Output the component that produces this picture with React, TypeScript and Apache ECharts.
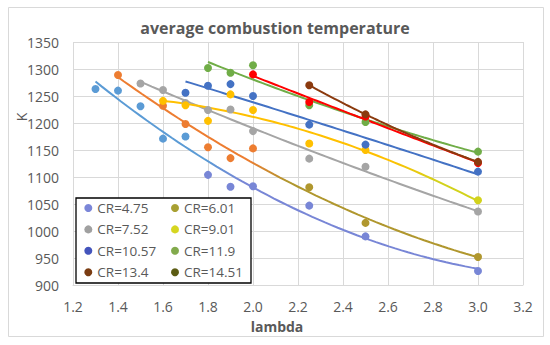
import React, { useEffect, useRef } from "react";
import * as echarts from "echarts";

const seriesNames = ["CR=4.75", "CR=6.01", "CR=7.52", "CR=9.01", "CR=10.57", "CR=11.9", "CR=13.4", "CR=14.51"];

const x475 = [1.3, 1.4, 1.5, 1.6, 1.7, 1.8, 1.9, 2.0, 2.25, 2.5, 3.0];
const y475 = [1263, 1260, 1231, 1171, 1175, 1104, 1082, 1083, 1047, 990, 926];
const x601 = [1.4, 1.6, 1.7, 1.8, 1.9, 2.0, 2.25, 2.5, 3.0];
const y601 = [1289, 1232, 1198, 1155, 1135, 1153, 1081, 1015, 952];
const x752 = [1.5, 1.6, 1.7, 1.8, 1.9, 2.0, 2.25, 2.5, 3.0];
const y752 = [1273, 1261, 1237, 1224, 1225, 1185, 1134, 1119, 1036];
const x901 = [1.6, 1.7, 1.8, 1.9, 2.0, 2.25, 2.5, 3.0];
const y901 = [1241, 1233, 1204, 1253, 1224, 1162, 1150, 1057];
const x1057 = [1.7, 1.8, 1.9, 2.0, 2.25, 2.5, 3.0];
const y1057 = [1256, 1269, 1272, 1250, 1197, 1160, 1110];
const x119 = [1.8, 1.9, 2.0, 2.25, 2.5, 3.0];
const y119 = [1302, 1293, 1307, 1233, 1202, 1147];
const x134 = [2.0, 2.25, 2.5, 3.0];
const y134 = [1290, 1239, 1212, 1126];
const x1451 = [2.25, 2.5, 3.0];
const y1451 = [1270, 1216, 1128];

const xTicks = [1.2, 3.2, 0.2];
const yTicks = [900, 1350, 50];

const allX = [x475, x601, x752, x901, x1057, x119, x134, x1451];
const allY = [y475, y601, y752, y901, y1057, y119, y134, y1451];

const COLORS = ["#5B9BD5", "#ED7D31", "#A5A5A5", "#FFC000", "#4472C4", "#70AD47", "#FF0000", "#8B3A0E"];
const LOW_COLORS = ["#7886D6", "#B0972E", "#A5A5A5", "#D2D21C", "#4472C4", "#70AD47", "#FF0000", "#8B3A0E"];
const LEGEND_COLORS = ["#7B86D8", "#A8A032", "#A0A0A0", "#D6D620", "#4454BC", "#82AA4C", "#7A3C12", "#5C5C14"];

// Least-squares polynomial (order 2) trendline, as in the original spreadsheet chart
function fitQuad(xs: number[], ys: number[]) {
  const n = xs.length;
  const m = xs.reduce((a, b) => a + b, 0) / n;
  const S = [0, 0, 0, 0, 0];
  const T = [0, 0, 0];
  xs.forEach((x, i) => {
    const u = x - m;
    let p = 1;
    for (let k = 0; k < 5; k++) {
      S[k] += p;
      if (k < 3) T[k] += p * ys[i];
      p *= u;
    }
  });
  const A = [
    [S[0], S[1], S[2], T[0]],
    [S[1], S[2], S[3], T[1]],
    [S[2], S[3], S[4], T[2]],
  ];
  for (let c = 0; c < 3; c++) {
    let piv = c;
    for (let r = c + 1; r < 3; r++) if (Math.abs(A[r][c]) > Math.abs(A[piv][c])) piv = r;
    [A[c], A[piv]] = [A[piv], A[c]];
    for (let r = 0; r < 3; r++) {
      if (r === c) continue;
      const f = A[r][c] / A[c][c];
      for (let k = c; k < 4; k++) A[r][k] -= f * A[c][k];
    }
  }
  const c0 = A[0][3] / A[0][0];
  const c1 = A[1][3] / A[1][1];
  const c2 = A[2][3] / A[2][2];
  return (x: number) => {
    const u = x - m;
    return c0 + c1 * u + c2 * u * u;
  };
}

const FONT = "'Open Sans', 'Liberation Sans', sans-serif";
const TXT = "#595959";

export default function App() {
  const ref = useRef<HTMLDivElement>(null);
  useEffect(() => {
    if (!ref.current) return;
    const chart = echarts.init(ref.current, null, { renderer: "svg" });

    const lineSeries: any[] = [];
    const scatterSeries: any[] = [];
    seriesNames.forEach((name, i) => {
      const xs = allX[i];
      const ys = allY[i];
      const f = fitQuad(xs, ys);
      const lo = Math.min(...xs);
      const hi = Math.max(...xs);
      const steps = 60;
      const trend: number[][] = [];
      for (let k = 0; k <= steps; k++) {
        const x = lo + ((hi - lo) * k) / steps;
        trend.push([x, f(x)]);
      }
      const lineColor =
        COLORS[i] === LOW_COLORS[i]
          ? COLORS[i]
          : {
              type: "linear",
              x: 0,
              y: 160,
              x2: 0,
              y2: 182,
              global: true,
              colorStops: [
                { offset: 0, color: COLORS[i] },
                { offset: 1, color: LOW_COLORS[i] },
              ],
            };
      lineSeries.push({
        name,
        type: "line",
        data: trend,
        showSymbol: false,
        symbol: "none",
        lineStyle: { width: 2, color: lineColor },
        itemStyle: { color: COLORS[i] },
        z: 2,
        silent: true,
      });
      scatterSeries.push({
        name,
        type: "scatter",
        symbolSize: 8,
        itemStyle: { color: COLORS[i], opacity: 1 },
        data: xs.map((x, k) => ({
          value: [x, ys[k]],
          itemStyle: { color: ys[k] < 1110 ? LOW_COLORS[i] : COLORS[i] },
        })),
        z: 3,
      });
    });

    const legendCommon = {
      orient: "vertical",
      icon: "circle",
      itemWidth: 8,
      itemHeight: 8,
      itemGap: 5.4,
      padding: 0,
      top: 200,
      z: 10,
      selectedMode: false,
      textStyle: { fontFamily: FONT, fontSize: 13.5, color: TXT, lineHeight: 16 },
    };
    const legendItem = (i: number) => ({ name: seriesNames[i], itemStyle: { color: LEGEND_COLORS[i] } });

    chart.setOption({
      animation: false,
      backgroundColor: "#ffffff",
      title: {
        text: "average combustion temperature",
        left: "center",
        top: 15,
        textStyle: { fontFamily: FONT, fontSize: 16, fontWeight: "bold", color: TXT },
      },
      grid: { left: 73, right: 27, top: 42, bottom: 60, containLabel: false },
      xAxis: {
        type: "value",
        min: xTicks[0],
        max: xTicks[1],
        interval: xTicks[2],
        axisLine: { show: true, lineStyle: { color: "#d9d9d9", width: 1 } },
        axisTick: { show: false },
        splitLine: { show: true, lineStyle: { color: "#d9d9d9", width: 1 } },
        axisLabel: {
          margin: 14,
          fontFamily: FONT,
          fontSize: 14,
          color: TXT,
          formatter: (v: number) => v.toFixed(1),
        },
      },
      yAxis: {
        type: "value",
        min: yTicks[0],
        max: yTicks[1],
        interval: yTicks[2],
        axisLine: { show: false },
        axisTick: { show: false },
        splitLine: { show: true, lineStyle: { color: "#d9d9d9", width: 1 } },
        axisLabel: {
          margin: 14,
          fontFamily: FONT,
          fontSize: 14,
          color: TXT,
          formatter: (v: number) => String(v),
        },
      },
      legend: [
        { ...legendCommon, left: 84.3, data: [0, 2, 4, 6].map(legendItem) },
        { ...legendCommon, left: 171, data: [1, 3, 5, 7].map(legendItem) },
      ],
      graphic: [
        {
          type: "rect",
          shape: { x: 8.5, y: 7.5, width: 535, height: 329 },
          style: { fill: "none", stroke: "#d9d9d9", lineWidth: 1 },
          z: 0,
          silent: true,
        },
        {
          type: "rect",
          shape: { x: 76, y: 198, width: 175, height: 85 },
          style: { fill: "#ffffff", stroke: "#000000", lineWidth: 1.3 },
          z: 9,
          silent: true,
        },
        {
          type: "text",
          x: 21,
          y: 117,
          rotation: Math.PI / 2,
          style: {
            text: "K",
            fontFamily: FONT,
            fontSize: 14,
            fill: TXT,
            textAlign: "center",
            textVerticalAlign: "middle",
          },
          z: 5,
        },
        {
          type: "text",
          x: 277,
          y: 326,
          style: {
            text: "lambda",
            fontFamily: FONT,
            fontSize: 14,
            fontWeight: "bold",
            fill: TXT,
            textAlign: "center",
            textVerticalAlign: "middle",
          },
          z: 5,
        },
      ],
      series: [...lineSeries, ...scatterSeries],
    });
    return () => chart.dispose();
  }, []);
  return <div ref={ref} style={{ position: "absolute", left: 0, top: 0, width: 550, height: 345 }} />;
}
